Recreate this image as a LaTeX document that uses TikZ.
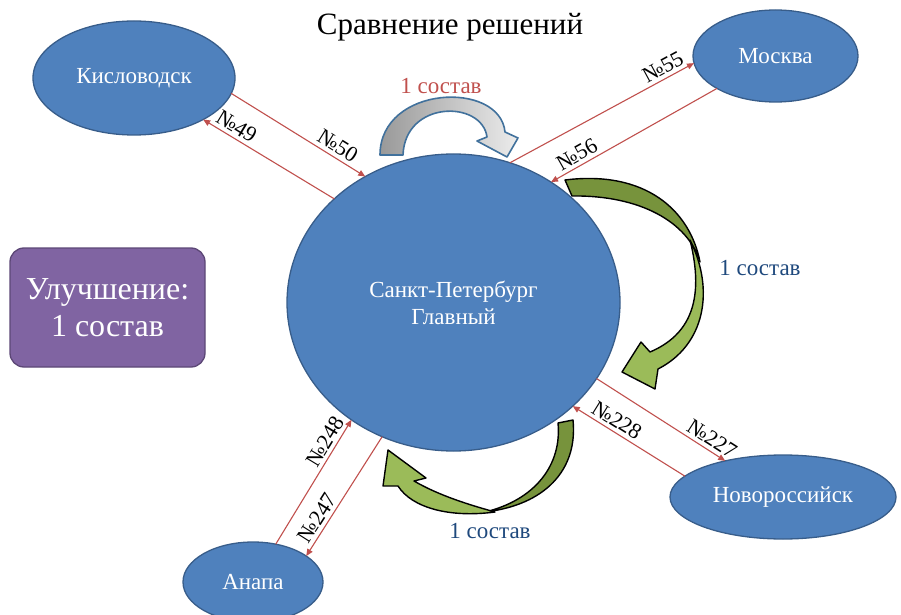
\documentclass[tikz,border=0pt]{standalone}
\usepackage{fontspec}
\setmainfont{Liberation Serif}[Ligatures=TeX]
\usetikzlibrary{arrows.meta,shapes.geometric}

\definecolor{cityblue}{HTML}{4F81BD}
\definecolor{cityedge}{HTML}{385D8A}
\definecolor{routered}{HTML}{C0504D}
\definecolor{leaf}{HTML}{9BBB59}
\definecolor{leafdark}{HTML}{77933C}
\definecolor{plum}{HTML}{8064A2}
\definecolor{plumedge}{HTML}{5C4776}
\definecolor{navy}{HTML}{1F497D}
\definecolor{grayedge}{HTML}{41719C}

\tikzset{
  city/.style={ellipse, draw=cityedge, fill=cityblue, line width=1.3pt,
    text=white, inner sep=0pt, outer sep=0pt, align=center,
    font=\rmfamily\fontsize{23}{27}\selectfont},
  trainline/.style={draw=routered, line width=1.1pt,
    -{Triangle[length=7pt,width=6pt]}},
  numlab/.style={sloped, above=1.5pt, inner sep=2pt, text=black,
    font=\rmfamily\fontsize{22}{24}\selectfont},
  swing/.style={draw=black, line width=1.4pt, line join=round},
  count/.style={font=\rmfamily\fontsize{23}{26}\selectfont},
}

\begin{document}
\begin{tikzpicture}[x=1pt,y=1pt]
\useasboundingbox (0,0) rectangle (901,614);

% title
\node[font=\rmfamily\fontsize{31}{34}\selectfont] (title) at (450,587) {Сравнение решений};

% stations
\node[city, minimum width=202pt, minimum height=114pt] (kis) at (134,536) {Кисловодск};
\node[city, minimum width=165pt, minimum height=92pt] (msk) at (775.5,558) {Москва};
\node[city, minimum width=333pt, minimum height=297pt] (spb) at (453.5,311.5) {Санкт-Петербург\\Главный};
\node[city, minimum width=226pt, minimum height=84pt] (nov) at (783,117) {Новороссийск};
\node[city, minimum width=140pt, minimum height=80pt] (ana) at (253,32) {Анапа};

% summary box
\node[rounded corners=14pt, fill=plum, draw=plumedge, line width=1.3pt,
      minimum width=195pt, minimum height=119pt, text=white, align=center,
      font=\rmfamily\fontsize{32}{37}\selectfont] (gain) at (107.5,306.5) {Улучшение:\\1 состав};

% train routes
\draw[trainline] (kis.-9.7) -- (spb.125.2) node[numlab, pos=0.75] {№50};
\draw[trainline] (spb.139.1) -- (kis.-31.2) node[numlab, pos=0.79] {№49};
\draw[trainline] (spb.68.5) -- (msk.185.5) node[numlab, pos=0.86] {№55};
\draw[trainline] (msk.209.9) -- (spb.51.5) node[numlab, pos=0.81] {№56};
\draw[trainline] (spb.-28.4) -- (nov.148.3) node[numlab, pos=0.85] {№227};
\draw[trainline] (nov.168.5) -- (spb.-41.7) node[numlab, pos=0.66] {№228};
\draw[trainline] (ana.59.2) -- (spb.229.8) node[numlab, pos=0.78] {№248};
\draw[trainline] (spb.242.3) -- (ana.26.6) node[numlab, pos=0.73] {№247};

% grey swing over the top
\shadedraw[left color=gray!80, right color=gray!15, draw=grayedge, line width=1.6pt, line join=round]
  (380,459) .. controls (380,529) and (500,534) .. (505,482)
  -- (518,476) -- (507,457) -- (477,473) -- (487,477)
  .. controls (482,514) and (405,514) .. (403,459) -- cycle;
\node[count, text=routered] (cnttop) at (441,528) {1 состав};

% green swing on the right
\filldraw[swing, fill=leafdark]
  (565,434) .. controls (645,444) and (690,404) .. (700,352)
  .. controls (688,392) and (640,419) .. (572,418) -- cycle;
\filldraw[swing, fill=leaf]
  (690,374) .. controls (705,314) and (690,279) .. (650,262)
  -- (641,272) -- (622,242) -- (655,225) -- (658,245)
  .. controls (705,269) and (715,324) .. (690,374) -- cycle;
\node[count, text=navy] (cntright) at (760,346) {1 состав};

% green swing below
\filldraw[swing, fill=leafdark]
  (573,194) .. controls (578,144) and (545,109) .. (485,102)
  .. controls (535,114) and (562,149) .. (558,191) -- cycle;
\filldraw[swing, fill=leaf]
  (495,102) .. controls (450,96) and (412,106) .. (398,128)
  -- (383,128) -- (388,164) -- (426,136) -- (414,133)
  .. controls (440,118) and (470,109) .. (495,102) -- cycle;
\node[count, text=navy] (cntbottom) at (490,83) {1 состав};
\end{tikzpicture}
\end{document}
